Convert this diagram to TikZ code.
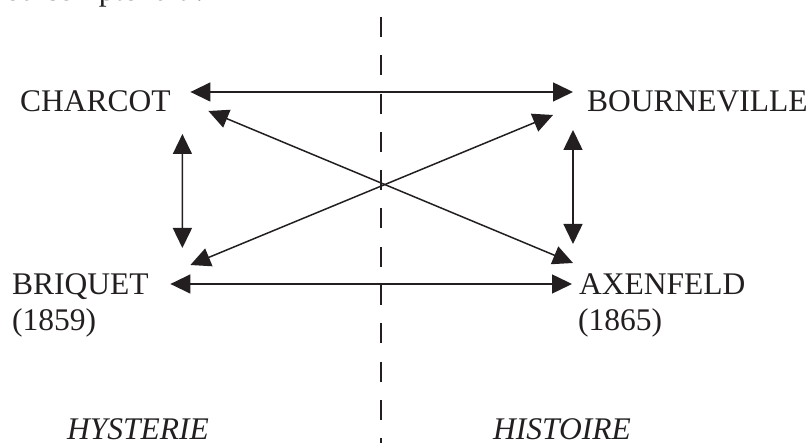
\documentclass[tikz,border=0pt]{standalone}
\usepackage{fontspec}
\setmainfont{Liberation Serif}
\usetikzlibrary{arrows.meta}
\definecolor{ink}{RGB}{35,31,32}

\begin{document}
\begin{tikzpicture}[x=1pt, y=1pt, color=ink,
  who/.style={inner sep=0pt, anchor=base west, font=\fontsize{31.5}{36}\selectfont},
  side/.style={who, font=\fontsize{31.5}{36}\selectfont\itshape},
  link/.style={{Triangle[length=20pt,width=19pt]}-{Triangle[length=20pt,width=19pt]}, line width=1.5pt},
  divider/.style={line width=1.5pt, dash pattern=on 20pt off 18.3pt}]
\useasboundingbox (0,0) rectangle (811,443);
\clip (0,0) rectangle (811,443);
% text cut off above the figure
\node[who, anchor=base east] (lead) at (204,442.5) {ou compte fait :};
% the four names
\node[who] (charcot) at (20,331) {CHARCOT};
\node[who] (bourn) at (587,331) {BOURNEVILLE};
\node[who] (briquet) at (12,148) {BRIQUET};
\node[who] (briqyear) at (12,112) {(1859)};
\node[who] (axen) at (579,148) {AXENFELD};
\node[who] (axenyear) at (578,112) {(1865)};
% the two sides
\node[side] (hyst) at (67,3) {HYSTERIE};
\node[side] (hist) at (493,3) {HISTOIRE};
\coordinate (divtop) at (381,426);
\coordinate (divbot) at (381,0);
\draw[divider] (divtop) -- (divbot);
% links
\draw[link] ([shift={(19.5,20)}]charcot.base east) -- ([shift={(-14,20)}]bourn.base west);
\draw[link] ([shift={(21.5,11)}]briquet.base east) -- ([shift={(-7,11)}]axen.base west);
\draw[link] ([shift={(11.5,-22)}]charcot.base east) -- ([shift={(33.5,47)}]briquet.base east);
\draw[link] ([shift={(-14,-18)}]bourn.base west) -- ([shift={(-6,51)}]axen.base west);
\draw[link] ([shift={(37.5,1)}]charcot.base east) -- ([shift={(-6,32)}]axen.base west);
\draw[link] ([shift={(41.5,30)}]briquet.base east) -- ([shift={(-34,-3)}]bourn.base west);
\end{tikzpicture}
\end{document}
